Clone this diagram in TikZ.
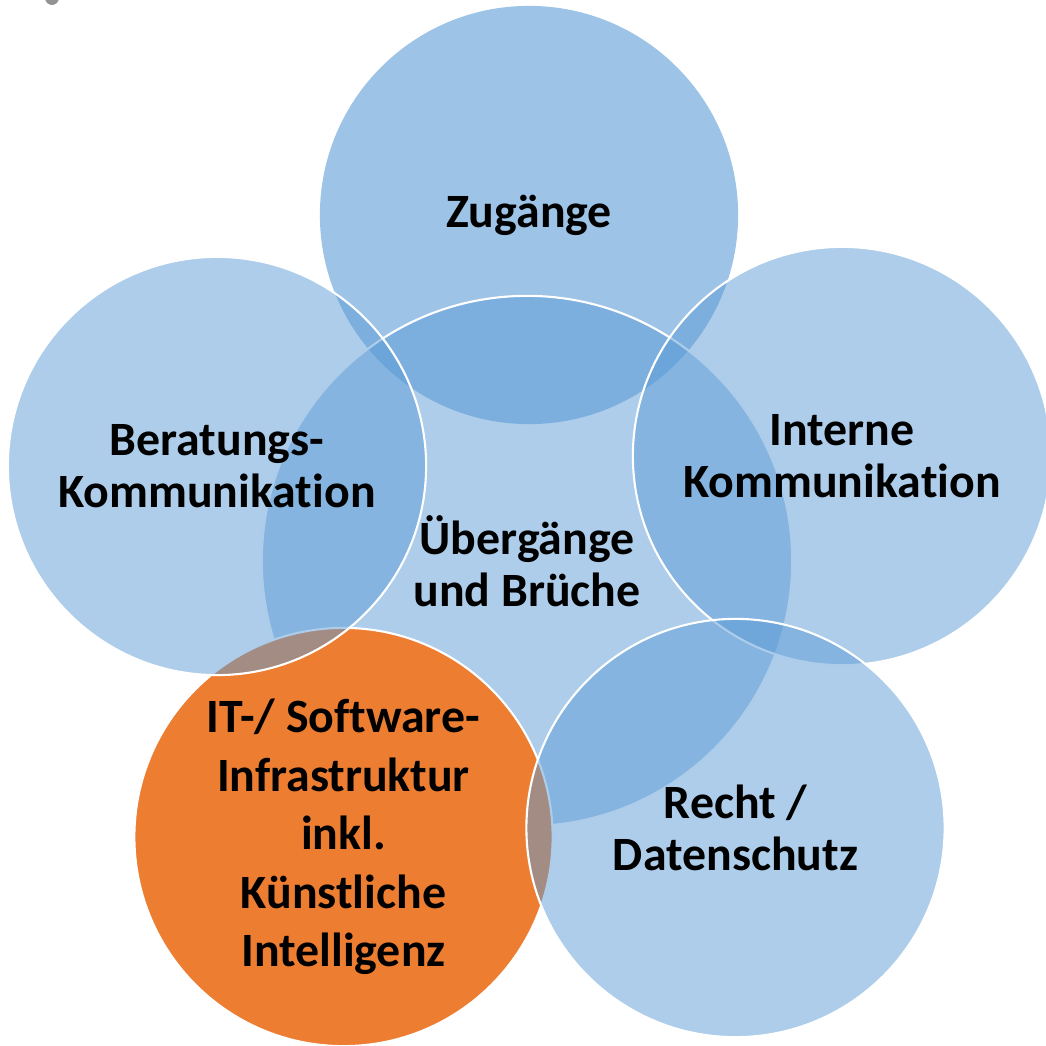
\documentclass[tikz,border=0pt]{standalone}
\usepackage{fontspec}
\setmainfont{Carlito}[RawFeature=-liga]
\definecolor{vennblue}{HTML}{5B9BD5}
\definecolor{vennorange}{HTML}{ED7D31}
\tikzset{venn/.style={circle, minimum size=4.18cm, inner sep=0pt, draw=white, line width=0.6pt,
    fill=vennblue, fill opacity=0.5, text opacity=1, align=center,
    font=\bfseries\fontsize{13.6}{14.8}\selectfont}}

\begin{document}
\begin{tikzpicture}[x=0.01cm, y=-0.01cm]
\useasboundingbox (0,0) rectangle (1046,1046);
\clip (0,0) rectangle (1046,1046);
\fill[gray!85, rounded corners=2pt] (45,-10) rectangle (59,5);
% outer ring and centre
\node[venn, draw=none, fill opacity=0.6] (zug) at (529,215) {Zugänge};
\node[venn, minimum size=5.3cm] (mitte) at (527,561) {Übergänge\\und Brüche};
\node[venn] (intern) at (842,456) {Interne\\Kommunikation};
\node[venn, fill=vennorange, fill opacity=1, font=\bfseries\fontsize{13.6}{16.6}\selectfont] (it) at (343.5,837)
  {IT-/ Software-\\Infrastruktur\\inkl.\\Künstliche\\Intelligenz};
\node[venn] (recht) at (735.5,828) {Recht /\\Datenschutz};
\node[venn] (berat) at (217,466) {Beratungs-\\Kommunikation};
\end{tikzpicture}
\end{document}
